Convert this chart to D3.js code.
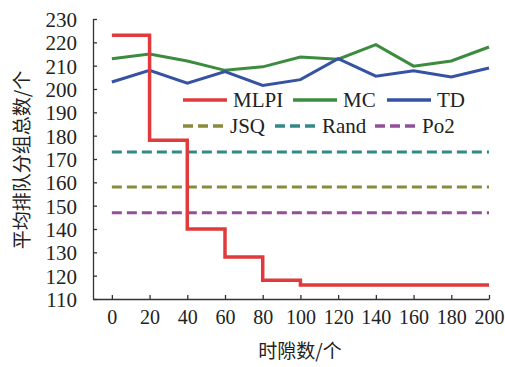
<!DOCTYPE html>
<html>
<head>
<meta charset="utf-8">
<script src="https://cdn.jsdelivr.net/npm/d3@7"></script>
<style>
    body { margin: 0; background: #fff; }
    text { font-family: "Liberation Serif", "Times New Roman", "DejaVu Serif", serif; fill: #222; }
    text.cjk { font-family: "Noto Sans CJK SC", sans-serif; }
</style>
</head>
<body>
<div id="chart"></div>
<script>
// slots on the x axis
let slots = [0, 20, 40, 60, 80, 100, 120, 140, 160, 180, 200];

// series values
let mlpi = [223, 178, 140, 128, 118, 116, 116, 116, 116, 116, 116];
let mc = [213, 215, 212, 208, 209.5, 213.7, 212.8, 219, 209.8, 212, 218];
let td = [203, 208, 202.5, 207.5, 201.5, 204, 213, 205.5, 207.8, 205.2, 209];
let jsq = 158;
let rand = 173;
let po2 = 147;

let yTicks = [110, 120, 130, 140, 150, 160, 170, 180, 190, 200, 210, 220, 230];

let width = 505, height = 367;
let margin = {top: 19, right: 16, bottom: 68, left: 93};
let serif = "'Liberation Serif', 'Times New Roman', 'DejaVu Serif', serif";

let svg = d3.select("#chart").append("svg")
    .attr("width", width)
    .attr("height", height);

let x = d3.scaleLinear()
    .domain([-10, 200])
    .range([margin.left, width - margin.right]);

let y = d3.scaleLinear()
    .domain([110, 230])
    .range([height - margin.bottom, margin.top]);

// axes
let xAxis = d3.axisBottom(x).tickValues(slots).tickSize(-4).tickPadding(10).tickSizeOuter(0);
let yAxis = d3.axisLeft(y).tickValues(yTicks).tickSize(-4).tickPadding(16).tickSizeOuter(0);

let gx = svg.append("g")
    .attr("transform", "translate(0," + y(110) + ")")
    .call(xAxis)
    .attr("font-family", serif);
gx.selectAll("text").attr("font-size", 20).attr("dy", "0.75em");

let gy = svg.append("g")
    .attr("transform", "translate(" + margin.left + ",0)")
    .call(yAxis)
    .attr("font-family", serif);
gy.selectAll("text").attr("font-size", 21).attr("dy", "0.35em");

svg.selectAll(".domain, .tick line").attr("stroke", "#333").attr("stroke-width", 1.3);

// axis titles
svg.append("text")
    .attr("class", "cjk")
    .attr("x", (margin.left + width - margin.right) / 2 + 9)
    .attr("y", 358)
    .attr("text-anchor", "middle")
    .attr("font-size", 19)
    .attr("fill", "#333")
    .text("时隙数/个");

svg.append("text")
    .attr("class", "cjk")
    .attr("transform", "translate(29," + 160 + ") rotate(-90)")
    .attr("text-anchor", "middle")
    .attr("font-size", 19)
    .attr("fill", "#333")
    .text("平均排队分组总数/个");

// constant baselines
let flat = [
    {name: "JSQ", value: jsq, color: "#8a8a3c"},
    {name: "Rand", value: rand, color: "#2f8a88"},
    {name: "Po2", value: po2, color: "#93509a"}
];

flat.forEach(function (d) {
    svg.append("line")
        .attr("x1", x(0)).attr("x2", x(200))
        .attr("y1", y(d.value)).attr("y2", y(d.value))
        .attr("stroke", d.color)
        .attr("stroke-width", 3)
        .attr("stroke-dasharray", "10,5");
});

let line = d3.line()
    .x((d, i) => x(slots[i]))
    .y(d => y(d));

let solid = [
    {name: "MC", values: mc, color: "#3c8c3f"},
    {name: "TD", values: td, color: "#3552a3"}
];

solid.forEach(function (d) {
    svg.append("path")
        .attr("d", line(d.values))
        .attr("fill", "none")
        .attr("stroke", d.color)
        .attr("stroke-width", 3);
});

svg.append("path")
    .attr("d", line.curve(d3.curveStepAfter)(mlpi))
    .attr("fill", "none")
    .attr("stroke", "#e03a3c")
    .attr("stroke-width", 3.5);

// legend
let legend = [
    {name: "MLPI", color: "#e03a3c", dash: null, lx: 183, ly: 100},
    {name: "MC", color: "#3c8c3f", dash: null, lx: 293, ly: 100},
    {name: "TD", color: "#3552a3", dash: null, lx: 387, ly: 100},
    {name: "JSQ", color: "#8a8a3c", dash: "10,5", lx: 183, ly: 126},
    {name: "Rand", color: "#2f8a88", dash: "10,5", lx: 275, ly: 126},
    {name: "Po2", color: "#93509a", dash: "10,5", lx: 375, ly: 126}
];

let lg = svg.selectAll(".legend")
    .data(legend)
    .enter()
    .append("g")
    .attr("class", "legend")
    .attr("transform", d => "translate(" + d.lx + "," + d.ly + ")");

lg.append("line")
    .attr("x1", 0)
    .attr("x2", d => d.dash ? 40 : 44)
    .attr("stroke", d => d.color)
    .attr("stroke-width", 3.5)
    .attr("stroke-dasharray", d => d.dash);

lg.append("text")
    .attr("x", d => d.dash ? 47 : 50)
    .attr("dy", "0.35em")
    .attr("font-size", 21)
    .attr("font-family", serif)
    .text(d => d.name);
</script>
</body>
</html>
